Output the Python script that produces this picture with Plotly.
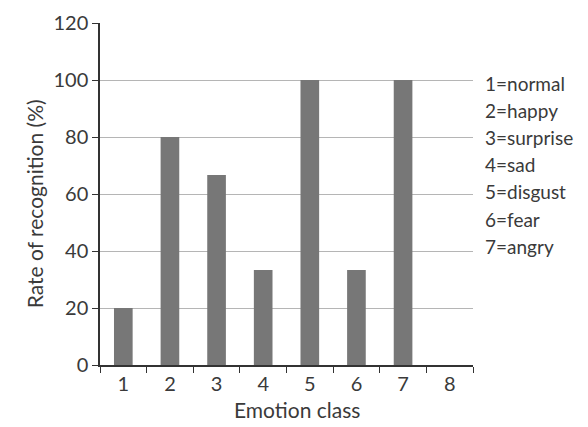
import plotly.graph_objects as go

# classes d'émotion et taux de reconnaissance (%)
classes = ["1", "2", "3", "4", "5", "6", "7", "8"]
taux = [20, 80, 66.7, 33.3, 100, 33.3, 100, 0]
legende = ["1=normal", "2=happy", "3=surprise", "4=sad", "5=disgust", "6=fear", "7=angry"]

fig = go.Figure(go.Bar(
    x=classes,
    y=taux,
    marker=dict(color="#777777", line=dict(width=0)),
))

fig.update_layout(
    width=588, height=427,
    margin=dict(l=92, r=123, t=15, b=70),
    plot_bgcolor="white", paper_bgcolor="white",
    bargap=0.6,
    showlegend=False,
    font=dict(family="Lato", size=20, color="#3a3a3a"),
)

fig.update_xaxes(
    type="category",
    tickson="boundaries",
    ticks="outside", ticklen=6, tickcolor="#333333",
    showline=True, linecolor="#333333", linewidth=1.5,
    automargin=False,
)
fig.update_yaxes(
    range=[0, 120], dtick=20,
    ticks="outside", ticklen=6, tickcolor="#333333",
    showline=True, linecolor="#333333", linewidth=1.5,
    showgrid=True, gridcolor="#b5b5b5", gridwidth=1,
    zeroline=False,
    automargin=False,
)

# titres des axes placés à la main (marges fixes)
fig.add_annotation(
    xref="paper", yref="paper", x=0.529, y=0, yshift=-44,
    text="Emotion class", showarrow=False,
    xanchor="center", yanchor="middle",
    font=dict(size=21, color="#3a3a3a"),
)
fig.add_annotation(
    xref="paper", yref="paper", x=0, xshift=-66, y=0.47,
    text="Rate of recognition (%)", showarrow=False, textangle=-90,
    xanchor="center", yanchor="middle",
    font=dict(size=21, color="#3a3a3a"),
)

# légende des classes, à droite du graphique
for i, txt in enumerate(legende):
    fig.add_annotation(
        xref="paper", yref="paper",
        x=1.05, xshift=-9, y=(357 - 75 - i * 27.2) / 342,
        text=txt, showarrow=False,
        xanchor="left", yanchor="middle",
        font=dict(size=19, color="#3a3a3a"),
    )

fig.write_html("out.html")
